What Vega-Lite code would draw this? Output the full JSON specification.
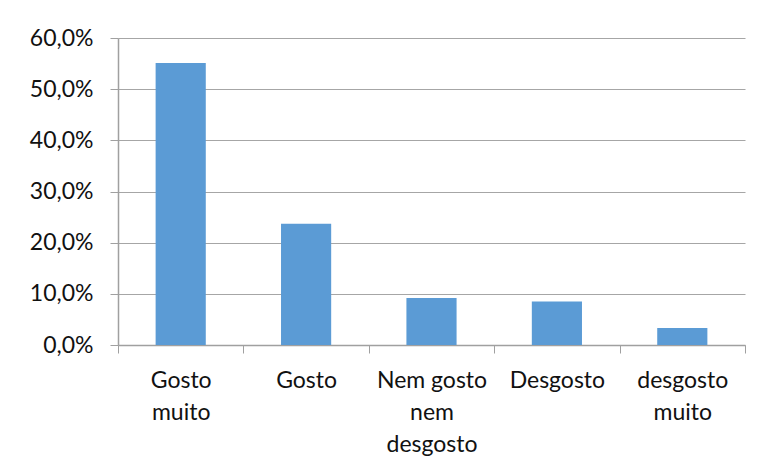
{
  "$schema": "https://vega.github.io/schema/vega-lite/v6.json",
  "autosize": {"type": "none"},
  "padding": {"left": 118, "top": 38, "right": 18, "bottom": 125},
  "width": 627,
  "height": 307,
  "background": "white",
  "data": {
    "values": [
      {"categoria": "Gosto muito", "percentual": 0.551},
      {"categoria": "Gosto", "percentual": 0.237},
      {"categoria": "Nem gosto nem desgosto", "percentual": 0.092},
      {"categoria": "Desgosto", "percentual": 0.085},
      {"categoria": "desgosto muito", "percentual": 0.033}
    ]
  },
  "mark": {"type": "bar", "color": "#5b9bd5", "width": {"band": 0.4}},
  "encoding": {
    "x": {
      "field": "categoria",
      "type": "nominal",
      "sort": null,
      "scale": {"paddingInner": 0, "paddingOuter": 0},
      "axis": {
        "title": null,
        "labelAngle": 0,
        "labelFont": "Lato",
        "labelFontSize": 23,
        "labelColor": "#111111",
        "labelLineHeight": 32,
        "labelPadding": 16,
        "labelLimit": 200,
        "tickBand": "extent",
        "tickSize": 8,
        "tickColor": "#a0a0a0",
        "domainColor": "#a0a0a0",
        "domainWidth": 1.5,
        "labelExpr": "datum.value == 'Gosto muito' ? ['Gosto','muito'] : datum.value == 'Nem gosto nem desgosto' ? ['Nem gosto','nem','desgosto'] : datum.value == 'desgosto muito' ? ['desgosto','muito'] : datum.value"
      }
    },
    "y": {
      "field": "percentual",
      "type": "quantitative",
      "scale": {"domain": [0, 0.6]},
      "axis": {
        "title": null,
        "values": [0, 0.1, 0.2, 0.3, 0.4, 0.5, 0.6],
        "labelExpr": "replace(format(datum.value * 100, '.1f'), '.', ',') + '%'",
        "labelFont": "Lato",
        "labelFontSize": 23,
        "labelColor": "#111111",
        "labelPadding": 17,
        "tickSize": 8,
        "tickColor": "#a0a0a0",
        "domainColor": "#a0a0a0",
        "domainWidth": 1.5,
        "grid": true,
        "gridColor": "#a6a6a6",
        "gridWidth": 1.2
      }
    }
  },
  "config": {"view": {"stroke": null}}
}
